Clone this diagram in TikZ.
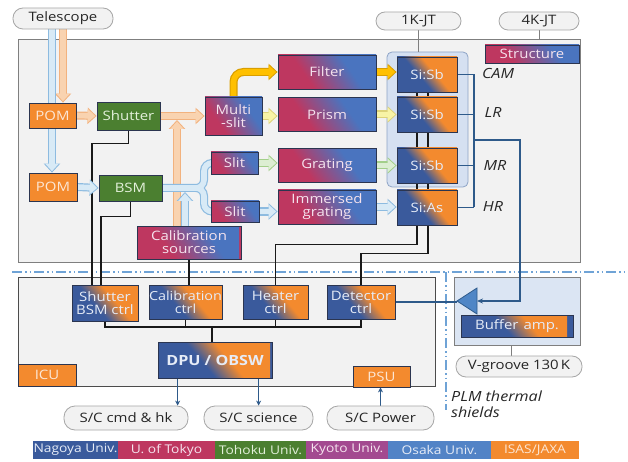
\documentclass[tikz,border=0pt]{standalone}
\usepackage{fontspec}
\setmainfont[FakeStretch=1.15]{Open Sans}
\usetikzlibrary{arrows.meta,calc}
\pgfdeclarelayer{bgl}\pgfdeclarelayer{midl}\pgfsetlayers{bgl,midl,main}
\definecolor{cb}{HTML}{3A5A9C}
\definecolor{co}{HTML}{F38A2E}
\definecolor{cm}{HTML}{BE3760}
\definecolor{cbl}{HTML}{4A74BF}
\definecolor{cg}{HTML}{4B7F30}
\definecolor{ck}{HTML}{A34A90}
\definecolor{cos}{HTML}{5283C6}
\definecolor{bgc}{HTML}{F2F2F2}
\definecolor{regb}{HTML}{7F7F7F}
\definecolor{grpf}{HTML}{D5E0F1}
\definecolor{grpb}{HTML}{8EA4C6}
\definecolor{pillf}{HTML}{F2F2F2}
\definecolor{pillb}{HTML}{A6A6A6}
\definecolor{txtd}{HTML}{262626}
\definecolor{boxb}{HTML}{2B3550}
\definecolor{wblue}{HTML}{2E5A8A}
\definecolor{ddc}{HTML}{6FA3D6}
\definecolor{tanO}{HTML}{F2B27E}
\definecolor{tanF}{HTML}{F9D3B0}
\definecolor{lbO}{HTML}{8DBBE0}
\definecolor{lbF}{HTML}{D8EAF6}
\definecolor{grO}{HTML}{A3CF8A}
\definecolor{grF}{HTML}{DCEED2}
\definecolor{goO}{HTML}{D99E00}
\definecolor{goF}{HTML}{FFC000}
\definecolor{yeO}{HTML}{DDD27A}
\definecolor{yeF}{HTML}{F8F3A6}
\definecolor{ampF}{HTML}{4F86C6}
\definecolor{ampB}{HTML}{2E5A8A}
\definecolor{tbc}{HTML}{E6ECF7}
\definecolor{tmc}{HTML}{F5E3EE}
\definecolor{toc}{HTML}{FCE6D4}
\definecolor{tgc}{HTML}{E3F0DA}
\pgfdeclareverticalshading{bosh}{100bp}{color(0bp)=(cb); color(45bp)=(cb); color(55bp)=(co); color(100bp)=(co)}
\pgfdeclareverticalshading{mbsh}{100bp}{color(0bp)=(cm); color(40bp)=(cm); color(60bp)=(cbl); color(100bp)=(cbl)}
\newcommand{\fatarr}[3]{%
  \draw[line width=8pt,#1,-{Triangle[length=9pt,width=16pt]}] #3;
  \draw[line width=5.6pt,#2,-{Triangle[length=7.6pt,width=13.2pt]},shorten >=1.4pt] #3;}
\begin{document}
\begin{tikzpicture}[x=1pt,y=-1pt,
  bx/.style={draw=boxb, line width=0.8pt, inner sep=0pt, align=center, font=\fontsize{13}{13}\selectfont},
  sz/.style 2 args={minimum width=#1pt, minimum height=#2pt},
  orbox/.style={bx, fill=co, text=toc},
  grbox/.style={bx, fill=cg, text=tgc},
  bobox/.style={bx, fill=cb, text=tbc, path picture={\shade[shading=bosh,shading angle=-50] ($(path picture bounding box.center)+(-#1pt,-#1pt)$) rectangle ($(path picture bounding box.center)+(#1pt,#1pt)$);}},
  bobox/.default=45,
  mbbox/.style={bx, fill=cm, text=tmc, path picture={\shade[shading=mbsh,shading angle=-55] ($(path picture bounding box.center)+(-#1pt,-#1pt)$) rectangle ($(path picture bounding box.center)+(#1pt,#1pt)$);}},
  mbbox/.default=50,
  pill/.style={draw=pillb, fill=pillf, line width=0.8pt, rounded corners=9pt, text=txtd, inner sep=0pt, font=\fontsize{13}{13}\selectfont},
  region/.style={draw=regb, fill=bgc, line width=0.8pt, inner sep=0pt},
  kwire/.style={draw=black!90, line width=1.3pt},
  bwire/.style={draw=wblue, line width=1.2pt},
  tarrow/.style={draw=wblue, line width=1.2pt, -{Stealth[length=5pt,width=5pt]}},
  lab/.style={font=\itshape\fontsize{14}{16}\selectfont, text=txtd, inner sep=0pt},
  leg/.style={inner sep=0pt, minimum height=18pt, font=\fontsize{12}{12}\selectfont},
  dd/.style={draw=ddc, line width=1.2pt, dash pattern=on 10pt off 3pt on 1.5pt off 3pt on 1.5pt off 3pt},
  conn/.style={draw=regb, line width=0.8pt}
]
\useasboundingbox (0,0) rectangle (628,462);
\begin{pgfonlayer}{bgl}
\fill[white] (0,0) rectangle (628,462);
\node[region, sz={562}{223}] (top) at (299,150.5) {};
\node[region, draw=black!70, sz={417}{109}] (icu) at (226.5,331.5) {};
\node[region, fill=grpf!85!white, sz={126}{68}] (bufg) at (517,311) {};
\node[draw=grpb, fill=grpf, rounded corners=5pt, line width=0.8pt, sz={81}{135}] (g1k) at (427.5,119.5) {};
\coordinate (dl) at (12,272); \coordinate (dr) at (628,272);
\draw[dd] (dl) -- (dr);
\coordinate (dv1) at (446,272); \coordinate (dv2) at (446,410);
\draw[dd] (dv1) -- (dv2);
\end{pgfonlayer}

% pills
\node[pill, rounded corners=10pt, sz={100}{21}] (tel) at (63,18.5) {Telescope};
\node[pill, sz={85}{18}] (onek) at (418.5,21) {1K-JT};
\node[pill, sz={80}{18}] (fourk) at (539,21) {4K-JT};
\node[pill, rounded corners=10pt, sz={126}{21}] (vg) at (519,366.5) {V-groove 130\,K};
\node[pill, sz={124}{24}, rounded corners=11pt] (cmd) at (126,418) {S/C cmd \& hk};
\node[pill, sz={109}{24}, rounded corners=11pt] (sci) at (258.5,418) {S/C science};
\node[pill, sz={107}{24}, rounded corners=11pt] (pow) at (380.5,418) {S/C Power};

% upper boxes
\node[orbox, sz={47}{25}] (pom1) at (52.5,115.5) {POM};
\node[orbox, sz={48}{28}] (pom2) at (53,187) {POM};
\node[grbox, sz={63}{28}] (shut) at (128.5,116) {Shutter};
\node[grbox, sz={63}{26}] (bsm) at (130.5,188) {BSM};
\node[mbbox=40, sz={57}{38}] (mslit) at (233.5,116) {Multi\\-slit};
\node[mbbox=35, sz={47}{22}] (slit1) at (234.5,163) {Slit};
\node[mbbox=35, sz={48}{21}] (slit2) at (235,211.5) {Slit};
\node[mbbox, sz={104}{33}] (cals) at (189,242.5) {Calibration\\sources};
\node[mbbox, sz={98}{34}] (filt) at (327,72) {Filter};
\node[mbbox, sz={98}{34}] (prism) at (327,114.5) {Prism};
\node[mbbox, sz={98}{34}] (grat) at (327,165.5) {Grating};
\node[mbbox, sz={98}{34}] (imm) at (327,207) {Immersed\\grating};
\node[mbbox, sz={94}{18}] (struct) at (532,54) {Structure};
\node[bobox=35, sz={60}{35}] (cam) at (427,74.5) {Si:Sb};
\node[bobox=35, sz={60}{35}] (lr) at (427,114.5) {Si:Sb};
\node[bobox=35, sz={60}{35}] (mr) at (427,165.5) {Si:Sb};
\node[bobox=35, sz={60}{35}] (sias) at (427,207.5) {Si:As};

% lower boxes
\node[bobox, sz={66}{36}] (sbc) at (105,303) {Shutter\\BSM ctrl};
\node[bobox, sz={73}{34}, font=\fontsize{12.5}{13}\selectfont] (calc) at (185.5,302) {Calibration\\ctrl};
\node[bobox, sz={65}{34}] (heat) at (275.5,302) {Heater\\ctrl};
\node[bobox, sz={68}{34}] (detc) at (361,302) {Detector\\ctrl};
\node[bobox=55, sz={114}{36}, font=\bfseries\fontsize{14}{14}\selectfont] (dpu) at (215,360) {DPU / OBSW};
\node[orbox, sz={58}{22}] (icub) at (47,375) {ICU};
\node[orbox, sz={57}{21}] (psu) at (381.5,376.5) {PSU};
\node[bobox=50, sz={112}{22}] (buf) at (517,326) {Buffer\hspace{5pt}amp.};

% labels
\node[lab] (lcam) at (498,74) {CAM};
\node[lab] (llr) at (493,113) {LR};
\node[lab] (lmr) at (495,166) {MR};
\node[lab] (lhr) at (493,207) {HR};
\node[lab, align=left, anchor=north west] (plm) at (451,391) {PLM thermal\\shields};

% legend
\node[leg, fill=cb, text=tbc, minimum width=85pt] (l1) at (75.5,450) {Nagoya Univ.};
\node[leg, fill=cm, text=tmc, minimum width=97pt] (l2) at (166.5,450) {U. of Tokyo};
\node[leg, fill=cg, text=tgc, minimum width=91pt] (l3) at (260.5,450) {Tohoku Univ.};
\node[leg, fill=ck, text=tmc, minimum width=82pt] (l4) at (347,450) {Kyoto Univ.};
\node[leg, fill=cos, text=tbc, minimum width=103pt] (l5) at (439.5,450) {Osaka Univ.};
\node[leg, fill=co, text=toc, minimum width=88pt] (l6) at (535,450) {ISAS/JAXA};

\begin{pgfonlayer}{midl}
% pill connectors
\draw[conn] (onek.south) -- (onek.south |- g1k.north);
\draw[conn] (fourk.south) -- (fourk.south |- top.north);
\coordinate (vgt) at ($(vg.north)+(-8,0)$);
\draw[conn] (vgt) -- (vgt |- bufg.south);
% black wires
\draw[kwire] (shut.south) -- ++(0,13) -| ($(sbc.north)+(-13,0)$);
\draw[kwire] (bsm.south) -- ++(0,15) -| ($(sbc.north)+(-4,0)$);
\draw[kwire] (cals.south) -- (cals.south |- calc.north);
\draw[kwire] (heat.north) -- ++(0,-40) -| ($(sias.south)+(-10,0)$);
\draw[kwire] (detc.north) -- ++(0,-31) -| ($(sias.south)+(1,0)$);
\draw[kwire] ($(cam.south)+(-10,0)$) -- ($(sias.north)+(-10,0)$);
\draw[kwire] ($(cam.south)+(1,0)$) -- ($(sias.north)+(1,0)$);
\coordinate (lb) at (212,327);
\draw[kwire] (sbc.south) |- (lb) -| (detc.south);
\draw[kwire] (calc.south) -- (calc.south |- lb);
\draw[kwire] (heat.south) -- (heat.south |- lb);
\draw[kwire] (lb) -- (lb |- dpu.north);
% thin arrows
\coordinate (d1) at ($(dpu.south west)+(20,0)$);
\coordinate (d2) at ($(dpu.south west)+(101,0)$);
\draw[tarrow] (d1) -- (d1 |- cmd.north);
\draw[tarrow] (d2) -- (d2 |- sci.north);
\draw[tarrow] (pow.north) -- (pow.north |- psu.south);
% blue detector wires
\coordinate (bus) at (474,140);
\coordinate (bc) at (520,140);
\foreach \n in {cam,lr,mr,sias} \draw[bwire] (\n.east) -- (\n.east -| bus);
\draw[bwire] (cam.east -| bus) -- (sias.east -| bus);
\coordinate (ampi) at (477,301);
\coordinate (ampo) at (457,301);
\draw[bwire,-{Stealth[length=6pt,width=5pt]}] (bus) -- (bc) |- (ampi);
\draw[bwire] (detc.east) -- (detc.east -| ampo);
\filldraw[fill=ampF, draw=ampB, line width=0.8pt] (ampo) -- ($(ampi)+(0,-13)$) -- ($(ampi)+(0,13)$) -- cycle;
% fat arrows
\fatarr{tanO}{tanF}{(tel.south) -- (tel.south |- pom1.north)}
\coordinate (tbl) at ($(tel.south)+(-11,0)$);
\fatarr{lbO}{lbF}{(tbl) -- (tbl |- pom2.north)}
\fatarr{tanO}{tanF}{(pom1.east) -- (shut.west)}
\fatarr{tanO}{tanF}{(shut.east) -- (mslit.west)}
\coordinate (cv1) at ($(cals.north)+(-12,0)$);
\coordinate (cv1e) at ($(cv1 |- mslit.west)+(0,4)$);
\fatarr{tanO}{tanF}{(cv1) -- (cv1e)}
\coordinate (bj) at (204,188);
\draw[line width=8pt, lbO, rounded corners=8pt] (bsm.east) -- (bj) |- (slit1.west) (bsm.east) -- (bj) |- (slit2.west);
\draw[line width=5.6pt, lbF, rounded corners=8pt] (bsm.east) -- (bj) |- (slit1.west) (bsm.east) -- (bj) |- (slit2.west);
\coordinate (cv2) at ($(cals.north)+(-4,0)$);
\coordinate (cv2e) at ($(cv2 |- bsm.east)+(0,4)$);
\fatarr{lbO}{lbF}{(cv2) -- (cv2e)}
\fatarr{lbO}{lbF}{(pom2.east) -- (bsm.west)}
\fatarr{grO}{grF}{(slit1.east) -- (slit1.east -| grat.west)}
\fatarr{lbO}{lbF}{(slit2.east) -- (slit2.east -| imm.west)}
\fatarr{goO,rounded corners=10pt}{goF,rounded corners=10pt}{(mslit.north) |- (filt.west)}
\fatarr{yeO}{yeF}{(mslit.east) -- (mslit.east -| prism.west)}
\fatarr{goO}{goF}{(filt.east) -- (filt.east -| cam.west)}
\fatarr{yeO}{yeF}{(prism.east) -- (lr.west)}
\fatarr{grO}{grF}{(grat.east) -- (mr.west)}
\fatarr{lbO}{lbF}{(imm.east) -- (imm.east -| sias.west)}
\end{pgfonlayer}
\end{tikzpicture}
\end{document}
